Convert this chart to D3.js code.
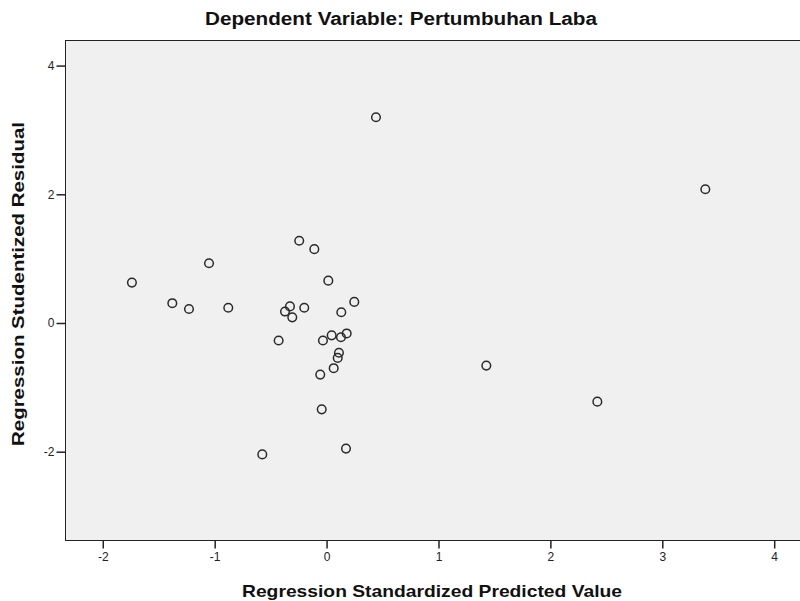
<!DOCTYPE html>
<html>
<head>
<meta charset="utf-8">
<script src="https://cdn.jsdelivr.net/npm/d3@7"></script>
<style>
  html, body { margin: 0; padding: 0; background: #ffffff; }
  svg { display: block; font-family: "Liberation Sans", Arial, sans-serif; }
</style>
</head>
<body>
<svg id="chart" width="800" height="601"></svg>
<script>
const titleText = "Dependent Variable: Pertumbuhan Laba";
const xLabel = "Regression Standardized Predicted Value";
const yLabel = "Regression Studentized Residual";
const xTicks = [-2, -1, 0, 1, 2, 3, 4];
const yTicks = [-2, 0, 2, 4];

const predicted = [0.446, 3.389, -1.735, -1.046, -1.374, -1.225, -0.874, -0.240, -0.105, 0.020,
  0.252, -0.323, -0.367, -0.302, -0.195, 0.136, -0.424, -0.028, 0.050, 0.133,
  0.184, 0.115, 0.104, 0.068, -0.052, -0.039, -0.570, 0.178, 1.432, 2.424];
const residual = [3.19, 2.07, 0.62, 0.92, 0.30, 0.21, 0.23, 1.27, 1.14, 0.65,
  0.32, 0.25, 0.17, 0.08, 0.23, 0.16, -0.28, -0.28, -0.20, -0.23,
  -0.17, -0.47, -0.55, -0.71, -0.81, -1.35, -2.05, -1.96, -0.67, -1.23];

const svg = d3.select("#chart");
const mLeft = 65, mRight = 800, mTop = 40, mBottom = 540;

const x = d3.scaleLinear().domain([-2.333, 4.235]).range([mLeft, mRight]);
const y = d3.scaleLinear().domain([-3.38, 4.39]).range([mBottom, mTop]);

svg.append("rect")
  .attr("x", mLeft + 0.5).attr("y", mTop + 0.5)
  .attr("width", mRight - mLeft).attr("height", mBottom - mTop)
  .attr("fill", "#f0f0f0").attr("stroke", "#222").attr("stroke-width", 1);

const fmt = d => String(d);
const xAxis = svg.append("g")
  .attr("transform", `translate(0.5,${mBottom + 0.5})`)
  .call(d3.axisBottom(x).tickValues(xTicks).tickSize(8).tickSizeOuter(0).tickFormat(fmt));
const yAxis = svg.append("g")
  .attr("transform", `translate(${mLeft + 0.5},0.5)`)
  .call(d3.axisLeft(y).tickValues(yTicks).tickSize(9).tickSizeOuter(0).tickFormat(fmt));

[xAxis, yAxis].forEach(g => {
  g.select(".domain").remove();
  g.selectAll(".tick line").attr("stroke", "#222").attr("stroke-width", 1.5);
  g.selectAll(".tick text").attr("fill", "#222").attr("font-size", 12)
    .attr("font-family", "Liberation Sans, Arial, sans-serif");
});
xAxis.selectAll(".tick text").attr("dy", "0.71em").attr("y", 12);
yAxis.selectAll(".tick text").attr("x", -11);

const pts = predicted.map((p, i) => ({ p, r: residual[i] }));
svg.append("g").selectAll("circle").data(pts).join("circle")
  .attr("cx", d => x(d.p)).attr("cy", d => y(d.r)).attr("r", 4.3)
  .attr("fill", "none").attr("stroke", "#2a2a2a").attr("stroke-width", 1.5);

svg.append("text").attr("x", 401).attr("y", 25).attr("text-anchor", "middle")
  .attr("font-size", 18).attr("font-weight", "bold").attr("fill", "#111")
  .attr("textLength", 392).attr("lengthAdjust", "spacingAndGlyphs").text(titleText);

svg.append("text").attr("x", 432).attr("y", 597).attr("text-anchor", "middle")
  .attr("font-size", 17).attr("font-weight", "bold").attr("fill", "#111")
  .attr("textLength", 380).attr("lengthAdjust", "spacingAndGlyphs").text(xLabel);

svg.append("text").attr("transform", "translate(24,284) rotate(-90)").attr("text-anchor", "middle")
  .attr("font-size", 17).attr("font-weight", "bold").attr("fill", "#111")
  .attr("textLength", 324).attr("lengthAdjust", "spacingAndGlyphs").text(yLabel);
</script>
</body>
</html>
